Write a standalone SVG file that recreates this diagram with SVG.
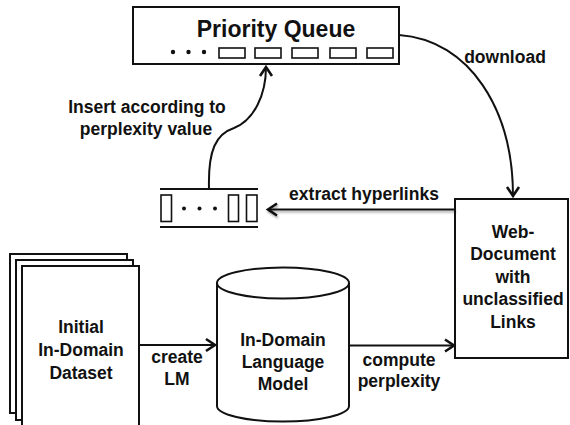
<svg xmlns="http://www.w3.org/2000/svg" width="570" height="425" viewBox="0 0 570 425">
<style>
.t{font-family:"Liberation Sans",Arial,sans-serif;font-weight:bold;font-size:17.5px;fill:#111;text-anchor:middle}
.big{font-size:23px}
.box{fill:#fff;stroke:#111;stroke-width:2}
.thin{fill:#fff;stroke:#111;stroke-width:1.6}
.edge{fill:none;stroke:#111;stroke-width:2}
</style>
<defs>
<marker id="arr" markerUnits="userSpaceOnUse" markerWidth="16" markerHeight="16" refX="12" refY="8" orient="auto">
<path d="M3,2 L12,8 L3,14" fill="none" stroke="#111" stroke-width="2.6"/>
</marker>
<filter id="sh" filterUnits="userSpaceOnUse" x="250" y="195" width="215" height="30">
<feDropShadow dx="1" dy="2" stdDeviation="1.2" flood-color="#000" flood-opacity="0.35"/>
</filter>
</defs>

<g id="priority-queue">
<rect class="box" x="133" y="7" width="266" height="57"/>
<text class="t big" x="276" y="37">Priority Queue</text>
<circle cx="173" cy="52" r="2.2" fill="#111"/>
<circle cx="188.5" cy="52" r="2.2" fill="#111"/>
<circle cx="204" cy="52" r="2.2" fill="#111"/>
<rect class="thin" x="219" y="48" width="26" height="10"/>
<rect class="thin" x="255" y="48" width="26" height="10"/>
<rect class="thin" x="292" y="48" width="26" height="10"/>
<rect class="thin" x="330" y="48" width="26" height="10"/>
<rect class="thin" x="367" y="48" width="26" height="10"/>
</g>

<g id="link-queue">
<line x1="160" y1="189" x2="258" y2="189" stroke="#111" stroke-width="2"/>
<line x1="160" y1="227" x2="258" y2="227" stroke="#111" stroke-width="2"/>
<rect class="thin" x="161" y="195" width="10.5" height="26.5"/>
<circle cx="184" cy="208.5" r="2" fill="#111"/>
<circle cx="199.5" cy="208.5" r="2" fill="#111"/>
<circle cx="215" cy="208.5" r="2" fill="#111"/>
<rect class="thin" x="228.5" y="195" width="10" height="26.5"/>
<rect class="thin" x="246.5" y="195" width="10.5" height="26.5"/>
</g>

<g id="web-document">
<rect class="box" x="455" y="199" width="113" height="159"/>
<text class="t" x="513" y="238">Web-</text>
<text class="t" x="513" y="260">Document</text>
<text class="t" x="513" y="283">with</text>
<text class="t" x="513" y="305">unclassified</text>
<text class="t" x="513" y="328">Links</text>
</g>

<g id="initial-dataset">
<rect class="box" x="10" y="254" width="117" height="159"/>
<rect class="box" x="16" y="260" width="117" height="160"/>
<rect class="box" x="22" y="266" width="117" height="164"/>
<text class="t" x="81" y="333">Initial</text>
<text class="t" x="81" y="356">In-Domain</text>
<text class="t" x="81" y="379">Dataset</text>
</g>

<g id="language-model">
<path class="box" d="M217,283 L217,406 A66,15.5 0 0 0 349,406 L349,283"/>
<ellipse class="box" cx="283" cy="283" rx="66" ry="15.5"/>
<text class="t" x="283" y="346">In-Domain</text>
<text class="t" x="283" y="368">Language</text>
<text class="t" x="283" y="390">Model</text>
</g>

<g id="connectors">
<path class="edge" d="M399,35 C470,40 513,110 513,196" marker-end="url(#arr)"/>
<text class="t" x="505" y="63">download</text>
<path class="edge" d="M209,188 C208,150 216,134 234,128 C254,120 266,95 266,67" marker-end="url(#arr)"/>
<text class="t" x="147" y="113">Insert according to</text>
<text class="t" x="146" y="135">perplexity value</text>
<path class="edge" d="M455,209.5 L268,209.5" marker-end="url(#arr)" filter="url(#sh)"/>
<text class="t" x="364" y="200">extract hyperlinks</text>
<path class="edge" d="M139,345 L215,345" marker-end="url(#arr)"/>
<text class="t" x="177" y="363">create</text>
<text class="t" x="177" y="385">LM</text>
<path class="edge" d="M349,345.5 L454,345.5" marker-end="url(#arr)"/>
<text class="t" x="399" y="366">compute</text>
<text class="t" x="399" y="387">perplexity</text>
</g>
</svg>
